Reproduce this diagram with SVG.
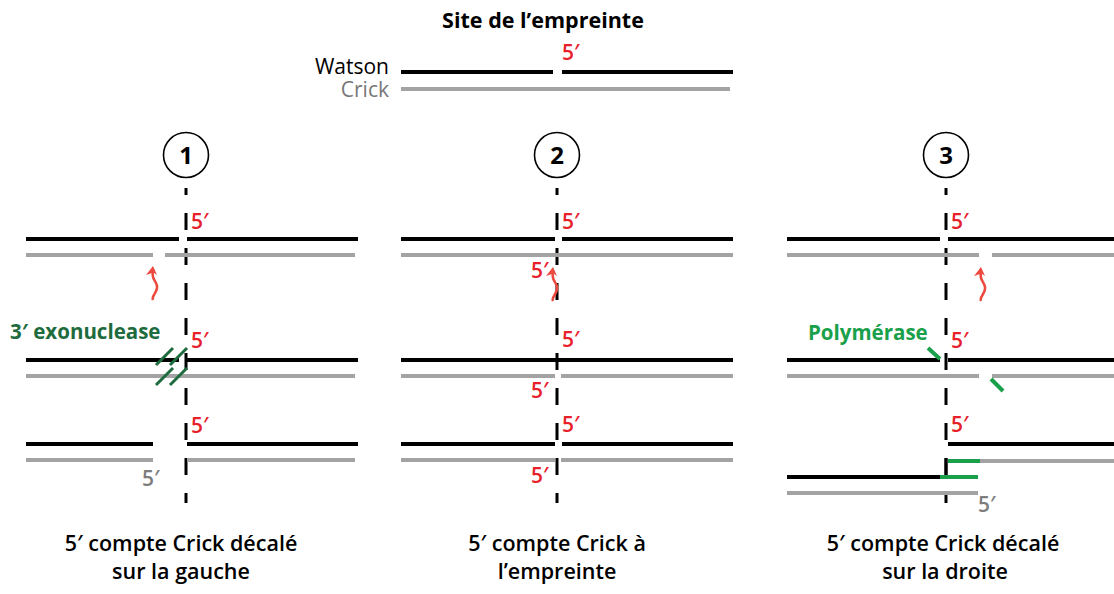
<svg xmlns="http://www.w3.org/2000/svg" width="1114" height="594" viewBox="0 0 1114 594">
<style>
.w{stroke:#000;stroke-width:4;fill:none}
.c{stroke:#a3a3a3;stroke-width:4;fill:none}
.d{stroke:#000;stroke-width:3;stroke-dasharray:17 18;stroke-dashoffset:10;fill:none}
.gd{stroke:#1e6b3e;stroke-width:3;fill:none}
.gl{stroke:#1aa04a;stroke-width:4;fill:none}
.r{font-family:"Open Sans","Noto Sans",sans-serif;font-weight:600;font-size:21px;fill:#e8202a}
.g5{font-family:"Open Sans","Noto Sans",sans-serif;font-weight:600;font-size:21px;fill:#7d7d7d}
.cap{font-family:"Open Sans","Noto Sans",sans-serif;font-weight:600;font-size:21.5px;fill:#000;text-anchor:middle}
.num{font-family:"Open Sans","Noto Sans",sans-serif;font-weight:700;font-size:24px;fill:#000;text-anchor:middle}
.circ{fill:#fff;stroke:#000;stroke-width:1.6}
</style>
<defs>
<g id="wave">
<path d="M0,34 C-2,30 5,26 4,20 C3,14 -2,13 0,5" stroke="#ec4a3f" stroke-width="2.6" fill="none"/>
<path d="M0,0 L4,9 L0.5,6.5 L-7,9 Z" fill="#ec4a3f"/>
</g>
</defs>
<rect width="1114" height="594" fill="#fff"/>

<g id="title">
<text x="543" y="28" font-family="Open Sans, Noto Sans, sans-serif" font-weight="700" font-size="21.5" text-anchor="middle">Site de l’empreinte</text>
</g>
<g id="legend">
<text x="389" y="74" font-family="Open Sans, Noto Sans, sans-serif" font-size="21" text-anchor="end" fill="#000">Watson</text>
<text x="389" y="97" font-family="Open Sans, Noto Sans, sans-serif" font-size="21" text-anchor="end" fill="#777">Crick</text>
<line class="w" x1="401" y1="72" x2="553" y2="72"/>
<line class="w" x1="562" y1="72" x2="733" y2="72"/>
<line class="c" x1="401" y1="89" x2="730" y2="89"/>
<text class="r" x="562" y="60">5′</text>
</g>

<g id="connectors">
<line class="d" x1="186" y1="188" x2="186" y2="503"/>
<line class="d" x1="557" y1="188" x2="557" y2="503"/>
<line class="d" x1="946" y1="188" x2="946" y2="503"/>
<line x1="946" y1="458" x2="946" y2="477" stroke="#000" stroke-width="3"/>
</g>

<g id="circle1"><circle class="circ" cx="186" cy="155" r="22.5"/><text class="num" x="186" y="164">1</text></g>
<g id="circle2"><circle class="circ" cx="557" cy="155" r="22.5"/><text class="num" x="557" y="164">2</text></g>
<g id="circle3"><circle class="circ" cx="946" cy="155" r="22.5"/><text class="num" x="946" y="164">3</text></g>

<g id="panel1">
<line class="w" x1="26" y1="239" x2="179" y2="239"/>
<line class="w" x1="187" y1="239" x2="358" y2="239"/>
<line class="c" x1="26" y1="255" x2="153" y2="255"/>
<line class="c" x1="165" y1="255" x2="355" y2="255"/>
<text class="r" x="191" y="229">5′</text>
<use href="#wave" x="153" y="266"/>
<line class="w" x1="26" y1="360" x2="179" y2="360"/>
<line class="w" x1="187" y1="360" x2="358" y2="360"/>
<line class="c" x1="26" y1="376" x2="355" y2="376"/>
<text class="r" x="191" y="348">5′</text>
<line class="gd" x1="156" y1="365" x2="173" y2="348"/>
<line class="gd" x1="170" y1="365" x2="187" y2="348"/>
<line class="gd" x1="156" y1="385" x2="173" y2="368"/>
<line class="gd" x1="170" y1="385" x2="187" y2="368"/>
<text x="10" y="339" font-family="Open Sans, Noto Sans, sans-serif" font-weight="700" font-size="20.5" fill="#1e6b3e">3′ exonuclease</text>
<line class="w" x1="26" y1="444" x2="153" y2="444"/>
<line class="w" x1="187" y1="444" x2="358" y2="444"/>
<line class="c" x1="26" y1="460" x2="153" y2="460"/>
<line class="c" x1="187" y1="460" x2="355" y2="460"/>
<text class="r" x="191" y="433">5′</text>
<text class="g5" x="142" y="486">5′</text>
<text class="cap" x="181" y="551">5′ compte Crick décalé</text>
<text class="cap" x="181" y="579">sur la gauche</text>
</g>

<g id="panel2">
<line class="w" x1="401" y1="239" x2="555" y2="239"/>
<line class="w" x1="562" y1="239" x2="733" y2="239"/>
<line class="c" x1="401" y1="255" x2="733" y2="255"/>
<text class="r" x="562" y="229">5′</text>
<text class="r" x="531" y="278">5′</text>
<use href="#wave" x="553" y="267"/>
<line class="w" x1="401" y1="360" x2="733" y2="360"/>
<line class="c" x1="401" y1="376" x2="555" y2="376"/>
<line class="c" x1="561" y1="376" x2="733" y2="376"/>
<text class="r" x="562" y="347">5′</text>
<text class="r" x="531" y="398">5′</text>
<line class="w" x1="401" y1="444" x2="555" y2="444"/>
<line class="w" x1="562" y1="444" x2="733" y2="444"/>
<line class="c" x1="401" y1="460" x2="555" y2="460"/>
<line class="c" x1="561" y1="460" x2="733" y2="460"/>
<text class="r" x="562" y="432">5′</text>
<text class="r" x="531" y="483">5′</text>
<text class="cap" x="557" y="551">5′ compte Crick à</text>
<text class="cap" x="557" y="579">l’empreinte</text>
</g>

<g id="panel3">
<line class="w" x1="787" y1="239" x2="940" y2="239"/>
<line class="w" x1="948" y1="239" x2="1114" y2="239"/>
<line class="c" x1="787" y1="255" x2="979" y2="255"/>
<line class="c" x1="992" y1="255" x2="1114" y2="255"/>
<text class="r" x="951" y="229">5′</text>
<use href="#wave" x="981" y="267"/>
<line class="w" x1="787" y1="360" x2="940" y2="360"/>
<line class="w" x1="948" y1="360" x2="1114" y2="360"/>
<line class="c" x1="787" y1="376" x2="979" y2="376"/>
<line class="c" x1="992" y1="376" x2="1114" y2="376"/>
<text class="r" x="951" y="348">5′</text>
<line class="gl" x1="928" y1="348" x2="940" y2="359"/>
<line class="gl" x1="991" y1="379" x2="1003" y2="391"/>
<text x="808" y="340" font-family="Open Sans, Noto Sans, sans-serif" font-weight="700" font-size="20.5" fill="#1aa04a">Polymérase</text>
<line class="w" x1="948" y1="444" x2="1114" y2="444"/>
<line class="gl" x1="948" y1="461" x2="980" y2="461"/>
<line class="c" x1="980" y1="461" x2="1114" y2="461"/>
<line class="w" x1="787" y1="477" x2="940" y2="477"/>
<line class="gl" x1="940" y1="477" x2="978" y2="477"/>
<line class="c" x1="787" y1="493" x2="978" y2="493"/>
<text class="r" x="951" y="432">5′</text>
<text class="g5" x="978" y="512">5′</text>
<text class="cap" x="943" y="551">5′ compte Crick décalé</text>
<text class="cap" x="945" y="579">sur la droite</text>
</g>
</svg>
